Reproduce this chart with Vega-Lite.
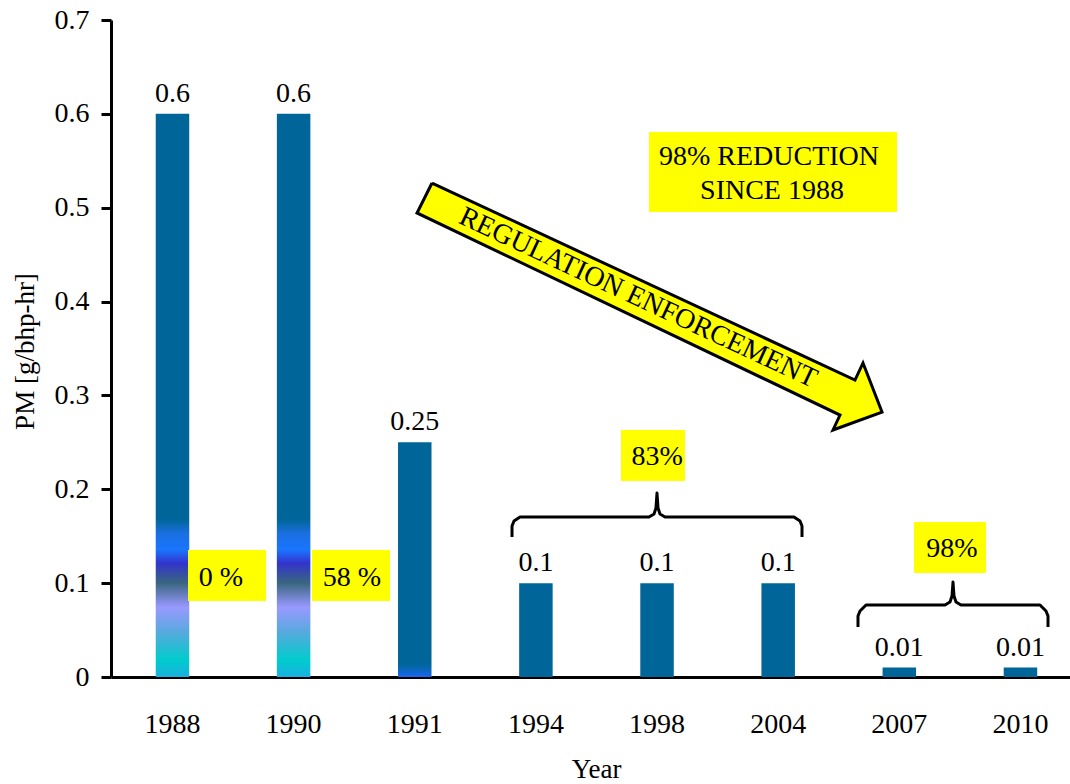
{
  "$schema": "https://vega.github.io/schema/vega-lite/v6.json",
  "width": 959,
  "height": 657,
  "autosize": {"type": "none"},
  "padding": {"left": 111, "top": 20, "right": 0, "bottom": 107},
  "background": "white",
  "config": {
    "font": "Liberation Serif",
    "view": {"stroke": null},
    "axis": {
      "grid": false,
      "domainColor": "#000000",
      "domainWidth": 3,
      "tickColor": "#000000",
      "tickWidth": 3,
      "labelColor": "#000000",
      "titleColor": "#000000",
      "labelFont": "Liberation Serif",
      "titleFont": "Liberation Serif",
      "labelFontSize": 28,
      "titleFontSize": 27,
      "titleFontWeight": "normal"
    },
    "axisY": {"tickSize": 10, "labelPadding": 12, "titleX": -78, "titleY": 331, "titleBaseline": "alphabetic", "titleAngle": -90},
    "axisX": {"ticks": false, "tickSize": 0, "labelPadding": 55, "labelBaseline": "alphabetic", "labelAngle": 0, "titleX": 485, "titleY": 100, "titleBaseline": "alphabetic"},
    "text": {"font": "Liberation Serif", "fontSize": 28, "color": "#000000"}
  },
  "datasets": {
    "bars": [
      {"year": "1988", "pm": 0.6},
      {"year": "1990", "pm": 0.6},
      {"year": "1991", "pm": 0.25},
      {"year": "1994", "pm": 0.1},
      {"year": "1998", "pm": 0.1},
      {"year": "2004", "pm": 0.1},
      {"year": "2007", "pm": 0.01},
      {"year": "2010", "pm": 0.01}
    ],
    "boxes": [
      {"name": "0 %", "x1": 0.128, "x2": 0.7718, "y1": 0.081, "y2": 0.1353},
      {"name": "58 %", "x1": 1.1516, "x2": 1.7954, "y1": 0.081, "y2": 0.1353},
      {"name": "83%", "x1": 3.7023, "x2": 4.2306, "y1": 0.2088, "y2": 0.2632},
      {"name": "98%", "x1": 6.121, "x2": 6.7153, "y1": 0.1108, "y2": 0.1651},
      {"name": "reduction", "x1": 3.9335, "x2": 5.9807, "y1": 0.4954, "y2": 0.5807}
    ],
    "notes": [
      {"t": "0 %", "pos": 0.4004, "val": 0.097},
      {"t": "58 %", "pos": 1.4818, "val": 0.097},
      {"t": "83%", "pos": 4.0, "val": 0.2259},
      {"t": "98%", "pos": 6.4347, "val": 0.1279},
      {"t": "98% REDUCTION", "pos": 4.924, "val": 0.5455},
      {"t": "SINCE 1988", "pos": 4.949, "val": 0.5093}
    ],
    "braces": [
      {"id": "a", "i": 0, "pos": 2.8026, "val": 0.1492},
      {"id": "a", "i": 1, "pos": 2.8026, "val": 0.1609},
      {"id": "a", "i": 2, "pos": 2.8191, "val": 0.1662},
      {"id": "a", "i": 3, "pos": 2.8686, "val": 0.1705},
      {"id": "a", "i": 4, "pos": 3.9335, "val": 0.1705},
      {"id": "a", "i": 5, "pos": 3.9747, "val": 0.1737},
      {"id": "a", "i": 6, "pos": 3.9912, "val": 0.1801},
      {"id": "a", "i": 7, "pos": 3.9995, "val": 0.196},
      {"id": "a", "i": 8, "pos": 4.0078, "val": 0.1801},
      {"id": "a", "i": 9, "pos": 4.0243, "val": 0.1737},
      {"id": "a", "i": 10, "pos": 4.0656, "val": 0.1705},
      {"id": "a", "i": 11, "pos": 5.1304, "val": 0.1705},
      {"id": "a", "i": 12, "pos": 5.1799, "val": 0.1662},
      {"id": "a", "i": 13, "pos": 5.1965, "val": 0.1609},
      {"id": "a", "i": 14, "pos": 5.1965, "val": 0.1492},
      {"id": "b", "i": 0, "pos": 5.6587, "val": 0.0533},
      {"id": "b", "i": 1, "pos": 5.6587, "val": 0.065},
      {"id": "b", "i": 2, "pos": 5.6753, "val": 0.0703},
      {"id": "b", "i": 3, "pos": 5.7248, "val": 0.0767},
      {"id": "b", "i": 4, "pos": 6.377, "val": 0.0767},
      {"id": "b", "i": 5, "pos": 6.4182, "val": 0.0799},
      {"id": "b", "i": 6, "pos": 6.4347, "val": 0.0863},
      {"id": "b", "i": 7, "pos": 6.443, "val": 0.1012},
      {"id": "b", "i": 8, "pos": 6.4512, "val": 0.0863},
      {"id": "b", "i": 9, "pos": 6.4677, "val": 0.0799},
      {"id": "b", "i": 10, "pos": 6.509, "val": 0.0767},
      {"id": "b", "i": 11, "pos": 7.1611, "val": 0.0767},
      {"id": "b", "i": 12, "pos": 7.2107, "val": 0.0703},
      {"id": "b", "i": 13, "pos": 7.2272, "val": 0.065},
      {"id": "b", "i": 14, "pos": 7.2272, "val": 0.0533}
    ],
    "arrow": [
      {"i": 0, "pos": 2.1422, "val": 0.5263},
      {"i": 1, "pos": 5.634, "val": 0.3164},
      {"i": 2, "pos": 5.7001, "val": 0.3346},
      {"i": 3, "pos": 5.8569, "val": 0.2823},
      {"i": 4, "pos": 5.4524, "val": 0.2632},
      {"i": 5, "pos": 5.5102, "val": 0.2791},
      {"i": 6, "pos": 2.0184, "val": 0.4944},
      {"i": 7, "pos": 2.1422, "val": 0.5263}
    ],
    "arrowText": [
      {"t": "REGULATION ENFORCEMENT", "pos": 3.843, "val": 0.4038}
    ]
  },
  "layer": [
    {
      "data": {"name": "bars"},
      "encoding": {
        "x": {
          "field": "year",
          "type": "ordinal",
          "title": "Year",
          "scale": {"domain": ["1988", "1990", "1991", "1994", "1998", "2004", "2007", "2010"], "paddingInner": 0.7235, "paddingOuter": 0.32, "align": 0.577, "round": false}
        },
        "y": {
          "field": "pm",
          "type": "quantitative",
          "title": "PM [g/bhp-hr]",
          "scale": {"domain": [0, 0.7], "nice": false, "zero": true},
          "axis": {"values": [0, 0.1, 0.2, 0.3, 0.4, 0.5, 0.6, 0.7], "format": "~g"}
        }
      },
      "layer": [
        {
          "transform": [{"filter": "datum.year == '1988' || datum.year == '1990'"}],
          "mark": {
            "type": "bar",
            "fill": {
              "gradient": "linear", "x1": 0, "y1": 0, "x2": 0, "y2": 1,
              "stops": [
                {"offset": 0, "color": "#006699"},
                {"offset": 0.72, "color": "#006699"},
                {"offset": 0.745, "color": "#1a6fe0"},
                {"offset": 0.774, "color": "#1a75ff"},
                {"offset": 0.798, "color": "#3333cc"},
                {"offset": 0.833, "color": "#3a6680"},
                {"offset": 0.876, "color": "#9999ff"},
                {"offset": 0.922, "color": "#55aadd"},
                {"offset": 0.97, "color": "#00cccc"},
                {"offset": 1, "color": "#1ab0e0"}
              ]
            }
          }
        },
        {
          "transform": [{"filter": "datum.year == '1991'"}],
          "mark": {
            "type": "bar",
            "fill": {
              "gradient": "linear", "x1": 0, "y1": 0, "x2": 0, "y2": 1,
              "stops": [
                {"offset": 0, "color": "#006699"},
                {"offset": 0.945, "color": "#006699"},
                {"offset": 1, "color": "#1a66ee"}
              ]
            }
          }
        },
        {
          "transform": [{"filter": "toNumber(datum.year) > 1991"}],
          "mark": {"type": "bar", "fill": "#006699"}
        },
        {
          "mark": {"type": "text", "dy": -12, "baseline": "alphabetic", "align": "center", "fontSize": 28},
          "encoding": {"text": {"field": "pm", "type": "quantitative", "format": "~g"}}
        }
      ]
    },
    {
      "layer": [
        {
          "data": {"name": "boxes"},
          "mark": {"type": "rect", "fill": "#ffff00"},
          "encoding": {
            "x": {"field": "x1", "type": "quantitative", "scale": {"domain": [-0.5077, 7.4088], "nice": false, "zero": false}, "axis": null},
            "x2": {"field": "x2"},
            "y": {"field": "y1", "type": "quantitative", "title": "PM [g/bhp-hr]", "scale": {"domain": [0, 0.7], "nice": false, "zero": true}},
            "y2": {"field": "y2"}
          }
        },
        {
          "data": {"name": "notes"},
          "mark": {"type": "text", "baseline": "alphabetic", "align": "center", "fontSize": 28},
          "encoding": {
            "x": {"field": "pos", "type": "quantitative", "scale": {"domain": [-0.5077, 7.4088], "nice": false, "zero": false}, "axis": null},
            "y": {"field": "val", "type": "quantitative", "title": "PM [g/bhp-hr]", "scale": {"domain": [0, 0.7], "nice": false, "zero": true}},
            "text": {"field": "t"}
          }
        },
        {
          "data": {"name": "braces"},
          "mark": {"type": "line", "stroke": "#000000", "strokeWidth": 3, "strokeJoin": "round", "strokeCap": "butt", "interpolate": "linear"},
          "encoding": {
            "x": {"field": "pos", "type": "quantitative", "scale": {"domain": [-0.5077, 7.4088], "nice": false, "zero": false}, "axis": null},
            "y": {"field": "val", "type": "quantitative", "title": "PM [g/bhp-hr]", "scale": {"domain": [0, 0.7], "nice": false, "zero": true}},
            "detail": {"field": "id"},
            "order": {"field": "i", "type": "quantitative"}
          }
        },
        {
          "data": {"name": "arrow"},
          "mark": {"type": "line", "fill": "#ffff00", "stroke": "#000000", "strokeWidth": 3, "strokeJoin": "miter", "interpolate": "linear"},
          "encoding": {
            "x": {"field": "pos", "type": "quantitative", "scale": {"domain": [-0.5077, 7.4088], "nice": false, "zero": false}, "axis": null},
            "y": {"field": "val", "type": "quantitative", "title": "PM [g/bhp-hr]", "scale": {"domain": [0, 0.7], "nice": false, "zero": true}},
            "order": {"field": "i", "type": "quantitative"}
          }
        },
        {
          "data": {"name": "arrowText"},
          "mark": {"type": "text", "baseline": "middle", "align": "center", "angle": 25, "fontSize": 28},
          "encoding": {
            "x": {"field": "pos", "type": "quantitative", "scale": {"domain": [-0.5077, 7.4088], "nice": false, "zero": false}, "axis": null},
            "y": {"field": "val", "type": "quantitative", "title": "PM [g/bhp-hr]", "scale": {"domain": [0, 0.7], "nice": false, "zero": true}},
            "text": {"field": "t"}
          }
        }
      ]
    }
  ],
  "resolve": {"scale": {"x": "independent"}}
}
